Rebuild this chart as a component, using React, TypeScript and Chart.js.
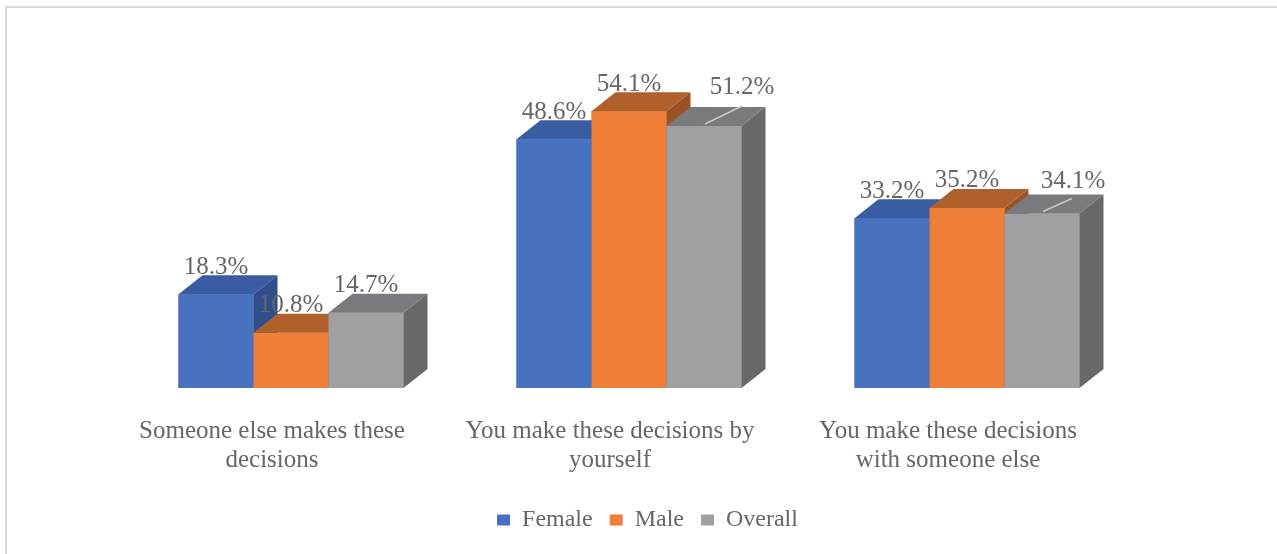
import React, { useEffect, useRef } from "react";
import { Chart, registerables } from "chart.js";

Chart.register(...registerables);

// ---- data ----
const categories: string[][] = [
  ["Someone else makes these", "decisions"],
  ["You make these decisions by", "yourself"],
  ["You make these decisions", "with someone else"],
];
const seriesNames = ["Female", "Male", "Overall"];
const femaleValues = [18.3, 48.6, 33.2];
const maleValues = [10.8, 54.1, 35.2];
const overallValues = [14.7, 51.2, 34.1];
const yMin = 0;
const yMax = 60;

// ---- style ----
const FONT = "'Liberation Serif', 'Times New Roman', serif";
const TEXT = "#666666";
const FRONT = ["#4672BF", "#EE7E38", "#9EA0A4"];
const TOP = ["#3A5CA2", "#B0602B", "#797A7E"];
const SIDE = ["#2F4E8B", "#9A5226", "#67686C"];
const DX = 24;
const DY = 19;
// callout placement (label offset, leader end) for specific labels
const callouts: Record<string, { tx: number; ty: number; lx: number; ly: number }> = {
  "2-1": { tx: 38, ty: -39, lx: 38, ly: -20 },
  "2-2": { tx: 31, ty: -32, lx: 30, ly: -15 },
};

const bar3d = {
  id: "bar3d",
  afterDatasetsDraw(chart: any) {
    const ctx = chart.ctx;
    ctx.save();
    // draw bars left-to-right within each group so nearer faces cover farther ones
    chart.data.datasets.forEach((_d: any, ds: number) => {
      const meta = chart.getDatasetMeta(ds);
      meta.data.forEach((el: any) => {
        const { x, y, base, width } = el.getProps(["x", "y", "base", "width"], true);
        const x0 = x - width / 2;
        const x1 = x + width / 2;
        ctx.fillStyle = FRONT[ds];
        ctx.fillRect(x0, y, width, base - y);
        ctx.fillStyle = TOP[ds];
        ctx.beginPath();
        ctx.moveTo(x0, y);
        ctx.lineTo(x1, y);
        ctx.lineTo(x1 + DX, y - DY);
        ctx.lineTo(x0 + DX, y - DY);
        ctx.closePath();
        ctx.fill();
        ctx.fillStyle = SIDE[ds];
        ctx.beginPath();
        ctx.moveTo(x1, y);
        ctx.lineTo(x1 + DX, y - DY);
        ctx.lineTo(x1 + DX, base - DY);
        ctx.lineTo(x1, base);
        ctx.closePath();
        ctx.fill();
      });
    });
    // data labels
    ctx.font = `25px ${FONT}`;
    ctx.fillStyle = TEXT;
    ctx.textAlign = "center";
    ctx.textBaseline = "middle";
    chart.data.datasets.forEach((dset: any, di: number) => {
      const meta = chart.getDatasetMeta(di);
      meta.data.forEach((el: any, j: number) => {
        const { x, y } = el.getProps(["x", "y"], true);
        const txt = Number(dset.data[j]).toFixed(1) + "%";
        const c = callouts[`${di}-${j}`];
        if (c) {
          ctx.strokeStyle = "#C9C9C9";
          ctx.lineWidth = 1.5;
          ctx.beginPath();
          ctx.moveTo(x + 1, y - 2);
          ctx.lineTo(x + c.lx, y + c.ly);
          ctx.stroke();
          ctx.fillText(txt, x + c.tx, y + c.ty);
        } else {
          ctx.fillText(txt, x, y - 27);
        }
      });
    });
    ctx.restore();
  },
};

export default function App() {
  const ref = useRef<HTMLCanvasElement | null>(null);
  useEffect(() => {
    if (!ref.current) return;
    const values = [femaleValues, maleValues, overallValues];
    const chart = new Chart(ref.current, {
      type: "bar",
      data: {
        labels: categories,
        datasets: seriesNames.map((name, i) => ({
          label: name,
          data: values[i],
          backgroundColor: FRONT[i],
          borderWidth: 0,
          categoryPercentage: 0.6657,
          barPercentage: 1,
        })),
      },
      options: {
        responsive: false,
        animation: false,
        layout: { padding: { left: 18, right: 0, top: 81, bottom: 12 } },
        plugins: {
          tooltip: { enabled: false },
          legend: {
            position: "bottom",
            labels: {
              font: { family: FONT, size: 24 },
              color: TEXT,
              boxWidth: 13,
              boxHeight: 11,
              padding: 17,
            },
          },
        },
        scales: {
          x: {
            grid: { display: false, drawTicks: false },
            border: { display: false },
            ticks: {
              font: { family: FONT, size: 25, lineHeight: 1.15 },
              color: TEXT,
              padding: 29,
              labelOffset: -19,
              maxRotation: 0,
              autoSkip: false,
            },
            afterFit: (s: any) => {
              s.height = 103;
            },
          },
          y: {
            display: true,
            min: yMin,
            max: yMax,
            grid: { display: false, drawTicks: false },
            border: { display: false },
            ticks: { display: false },
            afterFit: (s: any) => {
              s.width = 104;
            },
          },
          y2: {
            type: "linear",
            position: "right",
            display: true,
            grid: { display: false, drawTicks: false },
            border: { display: false },
            ticks: { display: false },
            afterFit: (s: any) => {
              s.width = 141;
            },
          },
        },
      },
      plugins: [bar3d],
    });
    return () => chart.destroy();
  }, []);
  return (
    <div style={{ position: "fixed", left: 0, top: 0, width: 1277, height: 554, background: "#fff" }}>
      <div
        style={{
          position: "absolute",
          left: 5,
          top: 6,
          width: 1300,
          height: 600,
          borderLeft: "2px solid #D9D9D9",
          borderTop: "2px solid #D9D9D9",
        }}
      />
      <canvas ref={ref} width={1277} height={554} style={{ position: "absolute", left: 0, top: 0 }} />
    </div>
  );
}
